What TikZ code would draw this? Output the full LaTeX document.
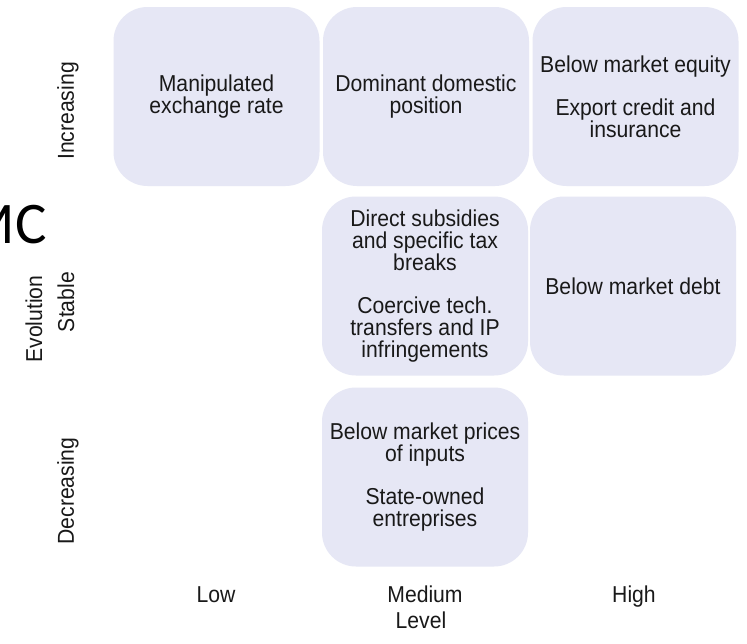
\documentclass[tikz,border=0pt]{standalone}
\usepackage{fontspec}
\setmainfont[FakeStretch=0.92]{Liberation Sans}
\newfontfamily\mcfont{Carlito}
\definecolor{boxfill}{RGB}{230,231,245}
\definecolor{ink}{RGB}{25,25,25}
\begin{document}
\begin{tikzpicture}[x=1pt,y=-1pt,
  cell/.style={fill=boxfill, rounded corners=34pt, minimum width=206pt, minimum height=179pt,
    align=center, inner sep=0pt, text=ink, font=\fontsize{23}{22}\selectfont},
  lab/.style={text=ink, inner sep=0pt, font=\fontsize{23}{22}\selectfont},
  vlab/.style={lab, rotate=90}]
\useasboundingbox (0,0) rectangle (747,643);
\clip (0,0) rectangle (747,643);
\fill[white] (0,0) rectangle (747,643);
% row 1
\node[cell] (c11) at (216.5,96.5) {Manipulated\\exchange rate};
\node[cell] (c21) at (426,96.5) {Dominant domestic\\position};
\node[cell] (c31) at (635.5,96.5) {Below market equity\\[21pt]Export credit and\\insurance};
% row 2
\node[cell] (c22) at (425,286) {Direct subsidies\\and specific tax\\breaks\\[21pt]Coercive tech.\\transfers and IP\\infringements};
\node[cell] (c32) at (633,286) {Below market debt};
% row 3
\node[cell] (c23) at (425,477) {Below market prices\\of inputs\\[21pt]State-owned\\entreprises};
% axis labels
\node[vlab] (inc) at (68,111) {Increasing};
\node[vlab] (sta) at (66,302) {Stable};
\node[vlab] (evo) at (34,319) {Evolution};
\node[vlab] (dec) at (68,491) {Decreasing};
\node[lab, anchor=base] (low) at (216,602) {Low};
\node[lab, anchor=base] (med) at (425,602) {Medium};
\node[lab, anchor=base] (hig) at (634,602) {High};
\node[lab, anchor=base] (lev) at (421,628) {Level};
% clipped title fragment
\node[anchor=base east, inner sep=0pt, text=black, font=\mcfont\fontsize{59}{59}\selectfont] (mc) at (47,243) {MC};
\end{tikzpicture}
\end{document}
